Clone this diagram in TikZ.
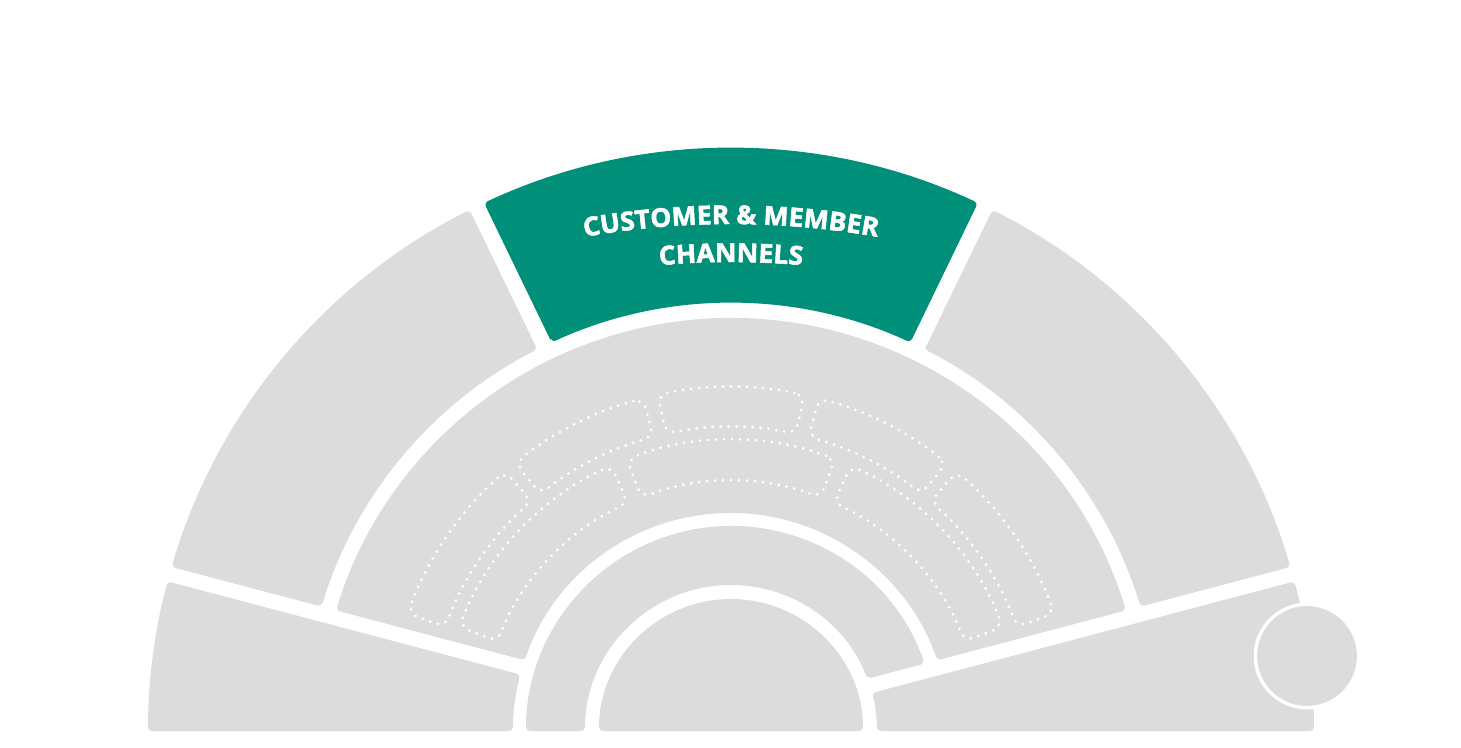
\documentclass[tikz,border=0pt]{standalone}
\usepackage{fontspec}
\usepackage{xcolor}
\usepackage{tikz}
\usetikzlibrary{decorations.text}
\newfontfamily\segfont{Open Sans}[FakeStretch=1.02, BoldFeatures={FakeBold=2}]
\definecolor{segGray}{RGB}{220,220,220}
\definecolor{chanGreen}{RGB}{0,143,121}

\begin{document}
\begin{tikzpicture}[x=1pt, y=1pt,
    seg/.style={fill=segGray, rounded corners=4pt},
    slot/.style={draw=white!97!segGray, line width=3.2pt, line cap=round, dash pattern=on 0pt off 8pt, rounded corners=10pt},
    arctext/.style={decorate, decoration={text along path, text align=center, text color=white}}]
    \useasboundingbox (-731,-16) rectangle (730,731);

    % inner rings
    \fill[seg] (-132,0) arc[start angle=180, end angle=0, radius=132] -- cycle;
    \fill[seg] (-205,0) -- (-146,0) arc[start angle=180, end angle=20.99, radius=146]
        -- (19.19:205) arc[start angle=19.19, end angle=180, radius=205] -- cycle;
    \fill[seg] (161.07:218) arc[start angle=161.07, end angle=18.93, radius=218]
        -- (16.98:413) arc[start angle=16.98, end angle=163.02, radius=413] -- cycle;

    % lower corners
    \fill[seg] (-583,0) -- (-218,0) arc[start angle=180, end angle=165.0, radius=218]
        -- (165.13:583) arc[start angle=165.13, end angle=180, radius=583] -- cycle;
    \fill[seg] (146,0) -- (583,0) arc[start angle=0, end angle=14.87, radius=583]
        -- (15.09:146) arc[start angle=15.09, end angle=0, radius=146] -- cycle;

    % outer ring
    \fill[seg] (163.10:428) -- (163.66:583) arc[start angle=163.66, end angle=116.64, radius=583]
        -- (116.92:428) arc[start angle=116.92, end angle=163.10, radius=428] -- cycle;
    \fill[seg, fill=chanGreen] (114.78:428) -- (115.06:583) arc[start angle=115.06, end angle=64.94, radius=583]
        -- (65.22:428) arc[start angle=65.22, end angle=114.78, radius=428] -- cycle;
    \fill[seg] (63.08:428) -- (63.36:583) arc[start angle=63.36, end angle=16.34, radius=583]
        -- (16.90:428) arc[start angle=16.90, end angle=63.08, radius=428] -- cycle;

    \path[arctext, shift={(0,-333)}, decoration={text={|\segfont\bfseries\fontsize{26}{30}\selectfont|CUSTOMER {\&} MEMBER}}]
        (110:840) arc[start angle=110, end angle=70, radius=840];
    \path[arctext, shift={(0,-333)}, decoration={text={|\segfont\bfseries\fontsize{26}{30}\selectfont|CHANNELS}}]
        (110:802) arc[start angle=110, end angle=70, radius=802];

    % dotted slots
    \foreach \a/\b/\ri/\ro in {77.7/102.3/304/344, 104.8/128.8/304/344, 131/160/304/344,
        51.2/75.2/304/344, 20/49/304/344, 69/111/250/291, 114.3/159/250/291, 21/65.7/250/291}
        \draw[slot] (\a:\ro) arc[start angle=\a, end angle=\b, radius=\ro]
            -- (\b:\ri) arc[start angle=\b, end angle=\a, radius=\ri] -- cycle;

    \filldraw[fill=segGray, draw=white, line width=3.4pt] (576,75) circle[radius=51.7];
\end{tikzpicture}
\end{document}
